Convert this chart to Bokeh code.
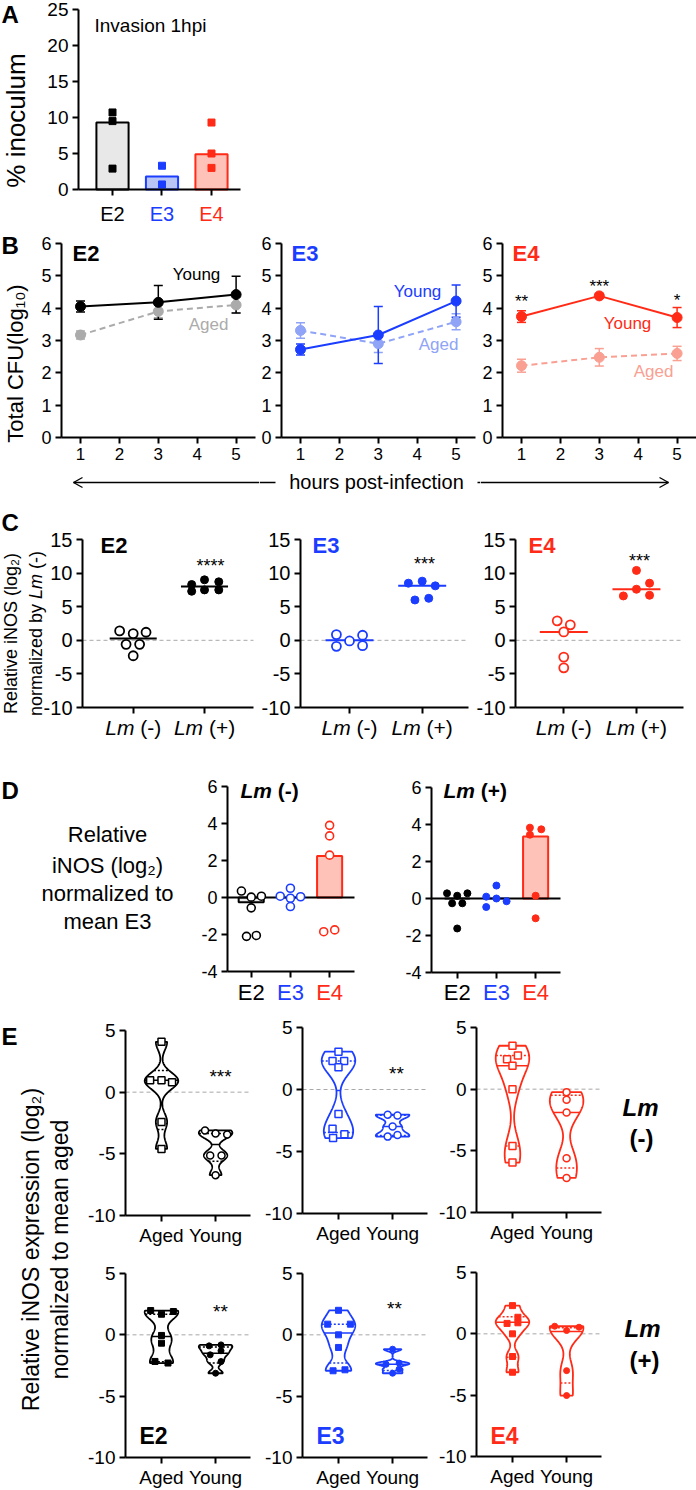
import numpy as np
from bokeh.plotting import figure
from bokeh.models import (Range1d, Label, Whisker, TeeHead, ColumnDataSource, FixedTicker)
from bokeh.layouts import row, column
from bokeh.embed import file_html
from bokeh.resources import INLINE

# ====================== DATA ======================
# Panel A : invasion 1 hpi (% inoculum)
A_groups = ["E2", "E3", "E4"]
A_means = [9.3, 1.8, 4.9]
A_pt_group = [0, 0, 0, 1, 1, 2, 2, 2]
A_pt_value = [10.7, 9.5, 2.9, 3.3, 0.7, 9.3, 5.0, 3.0]
A_yticks = [0, 5, 10, 15, 20, 25]

# Panel B : total CFU (log10) vs hours post-infection
B_hours = [1, 3, 5]
B_E2_young = [4.05, 4.18, 4.42]
B_E2_young_err = [0.17, 0.52, 0.57]
B_E2_aged = [3.17, 3.90, 4.10]
B_E2_aged_err = [0.12, 0.20, 0.25]
B_E3_young = [2.72, 3.17, 4.22]
B_E3_young_err = [0.17, 0.88, 0.50]
B_E3_aged = [3.31, 2.90, 3.58]
B_E3_aged_err = [0.24, 0.27, 0.25]
B_E4_young = [3.74, 4.38, 3.71]
B_E4_young_err = [0.18, 0.05, 0.31]
B_E4_aged = [2.22, 2.48, 2.60]
B_E4_aged_err = [0.20, 0.27, 0.22]
B_E4_stars = ["**", "***", "*"]
B_yticks = [0, 1, 2, 3, 4, 5, 6]

# Panel C : relative iNOS normalized by Lm(-)
C_E2_neg = [1.4, 1.0, 1.2, -0.6, -0.6, -2.3]
C_E2_neg_dx = [-0.19, 0.0, 0.18, -0.10, 0.09, 0.0]
C_E2_pos = [8.3, 9.0, 8.7, 7.3, 7.5, 7.5]
C_E2_pos_dx = [-0.18, 0.0, 0.20, -0.18, 0.0, 0.20]
C_E2_means = [0.25, 8.0]
C_E3_neg = [0.85, -0.9, -0.1, 0.75, -0.8]
C_E3_neg_dx = [-0.18, -0.18, 0.0, 0.18, 0.18]
C_E3_pos = [8.5, 8.8, 8.1, 6.0, 6.25]
C_E3_pos_dx = [-0.19, 0.0, 0.18, -0.10, 0.09]
C_E3_means = [0.0, 8.1]
C_E4_neg = [2.9, 2.3, 1.25, -2.5, -4.1]
C_E4_neg_dx = [-0.09, 0.09, 0.0, 0.0, 0.0]
C_E4_pos = [10.4, 8.5, 7.6, 6.6, 6.7]
C_E4_pos_dx = [0.0, 0.18, 0.0, -0.18, 0.18]
C_E4_means = [1.25, 7.6]
C_stars = ["****", "***", "***"]
C_yticks = [-10, -5, 0, 5, 10, 15]

# Panel D : relative iNOS normalized to mean E3
D_neg_bars = [-0.25, 0.0, 2.25]
D_neg_E2 = [0.35, 0.02, 0.07, -0.56, -2.1, -2.05]
D_neg_E2_dx = [-0.25, 0.0, 0.26, 0.0, -0.12, 0.13]
D_neg_E3 = [0.07, 0.5, 0.04, -0.04, -0.49]
D_neg_E3_dx = [-0.26, 0.0, 0.26, 0.0, 0.0]
D_neg_E4 = [3.9, 3.33, 2.29, -1.85, -1.75]
D_neg_E4_dx = [0.0, 0.0, 0.0, -0.15, 0.13]
D_pos_bars = [0.0, 0.0, 3.35]
D_pos_E2 = [0.28, 0.15, 0.28, -0.26, -0.26, -1.62]
D_pos_E2_dx = [-0.26, 0.0, 0.26, -0.13, 0.13, 0.0]
D_pos_E3 = [0.7, 0.1, 0.0, -0.15, -0.46]
D_pos_E3_dx = [0.0, -0.26, 0.0, 0.26, -0.26]
D_pos_E4 = [3.83, 3.74, 3.45, 0.15, -1.07]
D_pos_E4_dx = [-0.145, 0.145, -0.145, 0.0, 0.0]
D_yticks = [-4, -2, 0, 2, 4, 6]

# Panel E : violins, relative iNOS normalized to mean aged
E_cats = ["Aged", "Young"]
E_yticks = [-10, -5, 0, 5]
# Lm(-)   (lines = aged median, q3, q1, young median, q3, q1)
E_neg_E2_aged = [4.08, 0.97, 0.97, 0.81, -2.41, -4.6]
E_neg_E2_aged_dx = [0.0, -0.21, 0.0, 0.195, 0.0, 0.0]
E_neg_E2_young = [-3.1, -3.35, -3.43, -5.13, -5.13, -6.73]
E_neg_E2_young_dx = [-0.195, 0.0, 0.215, -0.10, 0.11, 0.0]
E_neg_E2_lines = [0.97, 1.76, -3.03, -4.24, -3.35, -5.6]
E_neg_E3_aged = [3.05, 2.3, 2.3, 1.8, -1.98, -3.16, -3.6, -3.92]
E_neg_E3_aged_dx = [0.0, -0.11, 0.105, 0.0, 0.0, -0.11, 0.11, -0.10]
E_neg_E3_young = [-2.03, -2.1, -2.98, -3.8, -3.67]
E_neg_E3_young_dx = [-0.09, 0.09, 0.0, -0.09, 0.09]
E_neg_E3_lines = [-0.08, 2.3, -3.46, -2.98, -2.07, -3.7]
E_neg_E4_aged = [3.52, 2.73, 2.43, 1.9, 0.0, -4.6, -5.95]
E_neg_E4_aged_dx = [0.0, 0.10, -0.10, 0.0, 0.0, 0.0, 0.0]
E_neg_E4_young = [-0.24, -0.86, -1.89, -5.6, -7.2]
E_neg_E4_young_dx = [0.0, 0.0, 0.0, 0.0, 0.0]
E_neg_E4_lines = [1.9, 2.73, -4.6, -1.89, -0.5, -6.4]
# Lm(+)
E_pos_E2_aged = [1.98, 1.9, 1.68, -0.05, -0.68, -2.17, -2.3]
E_pos_E2_aged_dx = [-0.2, 0.22, 0.0, 0.0, 0.0, -0.12, 0.12]
E_pos_E2_young = [-0.9, -0.82, -1.3, -1.63, -2.18, -3.13]
E_pos_E2_young_dx = [-0.12, 0.10, 0.10, -0.10, 0.10, 0.0]
E_pos_E2_lines = [-0.14, 1.68, -2.2, -1.5, -1.0, -2.3]
E_pos_E3_aged = [2.0, 0.87, 0.87, 0.0, -1.03, -2.93, -2.85]
E_pos_E3_aged_dx = [0.0, 0.22, -0.20, 0.0, 0.0, -0.10, 0.12]
E_pos_E3_young = [-1.17, -2.3, -2.4, -2.8, -3.13]
E_pos_E3_young_dx = [0.0, 0.12, -0.12, 0.12, 0.0]
E_pos_E3_lines = [0.14, 0.87, -2.3, -2.4, -1.6, -2.9]
E_pos_E4_aged = [2.3, 1.35, 0.9, 0.85, 0.0, -1.85, -3.13]
E_pos_E4_aged_dx = [0.0, 0.10, 0.10, -0.10, 0.0, 0.0, 0.0]
E_pos_E4_young = [0.62, 0.54, 0.27, -3.0, -5.03]
E_pos_E4_young_dx = [-0.22, 0.23, 0.0, 0.0, 0.0]
E_pos_E4_lines = [0.94, 1.4, -1.9, 0.2, 0.5, -4.0]
E_stars_neg = ["***", "**", ""]
E_stars_pos = ["**", "**", ""]

# ====================== STYLE ======================
FONT = "Liberation Sans"
BLACK = "#000000"
BLUE = "#1b3dff"
RED = "#ff2b17"
GENO_COL = [BLACK, BLUE, RED]
AGED_COL = ["#ababab", "#8fa3f7", "#f9a093"]
BAR_FILL = ["#e8e8e8", "#b9c6f5", "#ffc2b8"]
ZERO_DASH = "#a8a8a8"

W_REG = {'a': .556, 'b': .556, 'c': .5, 'd': .556, 'e': .556, 'f': .278, 'g': .556,
         'h': .556, 'i': .222, 'j': .222, 'k': .5, 'l': .222, 'm': .833, 'n': .556,
         'o': .556, 'p': .556, 'q': .556, 'r': .333, 's': .5, 't': .278, 'u': .556,
         'v': .5, 'w': .722, 'x': .5, 'y': .5, 'z': .5, ' ': .278, '(': .333,
         ')': .333, '-': .333, '+': .584, 'L': .556}
W_BOLD = {'L': .611, 'm': .889, ' ': .278, '(': .333, ')': .333, '-': .333, '+': .584}

GEOM = {}


def mkfig(box, frame=None, xr=(0.0, 1.0), yr=(0.0, 1.0), axes=True):
    """box: figure rectangle in page pixels; frame: where the axes sit (page px);
    xr/yr: data values at the frame edges. The whole box is the drawing area and
    the axes are pinned at the frame edges with fixed_location/bounds."""
    x0, y0, x1, y1 = box
    if frame is None:
        frame = box
    fl, ft, fr, fb = frame
    sx = (xr[1] - xr[0]) / (fr - fl)
    sy = (yr[1] - yr[0]) / (fb - ft)
    xf = (xr[0] + (x0 - fl) * sx, xr[0] + (x1 - fl) * sx)
    yf = (yr[0] + (fb - y1) * sy, yr[0] + (fb - y0) * sy)
    p = figure(width=x1 - x0, height=y1 - y0, min_border=0,
               min_border_left=0, min_border_right=0, min_border_top=0,
               min_border_bottom=0,
               x_range=Range1d(*xf), y_range=Range1d(*yf),
               output_backend="svg", toolbar_location=None, title=None)
    p.outline_line_color = None
    p.background_fill_color = "white"
    p.border_fill_color = "white"
    p.grid.visible = False
    GEOM[p.id] = (x0, y0, x1, y1, xf, yf)
    if axes:
        p.yaxis.fixed_location = xr[0]
        p.yaxis.bounds = (yr[0], yr[1])
        p.xaxis.fixed_location = yr[0]
        p.xaxis.bounds = (xr[0], xr[1])
        for ax in p.axis:
            ax.axis_line_width = 2
            ax.axis_line_color = "black"
            ax.major_tick_line_width = 2
            ax.major_tick_line_color = "black"
            ax.major_tick_out = 6
            ax.major_tick_in = 0
            ax.minor_tick_line_color = None
            ax.major_label_text_font = FONT
            ax.major_label_text_color = "black"
            ax.major_label_standoff = 4
    else:
        p.axis.visible = False
    return p


def dx(p, X):
    x0, y0, x1, y1, xf, yf = GEOM[p.id]
    return xf[0] + (X - x0) / (x1 - x0) * (xf[1] - xf[0])


def dy(p, Y):
    x0, y0, x1, y1, xf, yf = GEOM[p.id]
    return yf[0] + (y1 - Y) / (y1 - y0) * (yf[1] - yf[0])


def px(p, x):
    x0, y0, x1, y1, xf, yf = GEOM[p.id]
    return x0 + (x - xf[0]) / (xf[1] - xf[0]) * (x1 - x0)


def labd(p, x, y, text, size, color=BLACK, style="normal", align="center",
         baseline="middle", angle=0.0):
    p.add_layout(Label(x=x, y=y, text=text, text_font=FONT,
                       text_font_size=f"{size}px", text_color=color,
                       text_font_style=style, text_align=align,
                       text_baseline=baseline, angle=angle))


def lab(p, X, Y, text, size, color=BLACK, style="normal", align="center",
        baseline="middle", angle=0.0):
    labd(p, dx(p, X), dy(p, Y), text, size, color, style, align, baseline, angle)


def seg(p, X0, Y0, X1, Y1, color=BLACK, width=1.3):
    p.segment(x0=[dx(p, X0)], y0=[dy(p, Y0)], x1=[dx(p, X1)], y1=[dy(p, Y1)],
              line_color=color, line_width=width)


def tw(text, bold):
    t = W_BOLD if bold else W_REG
    return sum(t.get(ch, W_REG.get(ch, .556)) for ch in text)


def mixed(p, X, Y, parts, size, color=BLACK, align="center", vertical=False):
    """Several text runs of different styles placed one after another.
    Leading spaces are turned into an offset (SVG collapses them)."""
    widths = [tw(t, "bold" in s) * size for t, s in parts]
    total = sum(widths)
    if not vertical:
        cur = X - total / 2 if align == "center" else X
    else:
        cur = Y + total / 2
    for (t, s), w in zip(parts, widths):
        stripped = t.lstrip(" ")
        lead = tw(t[:len(t) - len(stripped)], "bold" in s) * size
        if not vertical:
            lab(p, cur + lead, Y, stripped, size, color, s, align="left")
            cur += w
        else:
            lab(p, X, cur - lead, stripped, size, color, s, align="left", angle=np.pi / 2)
            cur -= w


def set_ticks(p, xt, yt, ysize, xsize=None, xover=None):
    p.xaxis.ticker = FixedTicker(ticks=xt)
    p.yaxis.ticker = FixedTicker(ticks=yt)
    p.yaxis.major_label_text_font_size = f"{ysize}px"
    p.yaxis.major_label_overrides = {t: (f"-{abs(t)}" if t < 0 else f"{t}") for t in yt}
    if xsize is None:
        p.xaxis.major_label_text_color = None
    else:
        p.xaxis.major_label_text_font_size = f"{xsize}px"
    if xover:
        p.xaxis.major_label_overrides = xover


def zero_line(p, xr, color, dash, width):
    p.segment(x0=[xr[0]], x1=[xr[1]], y0=[0], y1=[0], line_color=color,
              line_dash=dash, line_width=width)


# ====================== PANEL A ======================
A_xr = (-0.687, 2.586)
fA = mkfig((0, 0, 696, 232), (78, 9, 240, 189), A_xr, (0, 25))
set_ticks(fA, [0, 1, 2], A_yticks, 19)
fA.vbar(x=[0, 1, 2], top=A_means, width=0.65, bottom=0,
        fill_color=BAR_FILL, line_color=GENO_COL, line_width=2)
fA.scatter(x=A_pt_group, y=A_pt_value, marker="square", size=7,
           color=[GENO_COL[g] for g in A_pt_group])
for i, g in enumerate(A_groups):
    labd(fA, i, dy(fA, 213), g, 20, GENO_COL[i])
lab(fA, 94, 25, "Invasion 1hpi", 19, align="left")
lab(fA, 1, 14, "A", 24, style="bold", align="left")
lab(fA, 15, 120, "% inoculum", 26, angle=np.pi / 2)

# ====================== PANEL B ======================
B_boxes = [(0, 232, 259, 500), (259, 232, 480, 500), (480, 232, 696, 500)]
B_frames = [(61, 243, 255, 437), (281, 243, 475, 437), (502, 243, 696, 437)]
B_series = [(B_E2_young, B_E2_young_err, B_E2_aged, B_E2_aged_err),
            (B_E3_young, B_E3_young_err, B_E3_aged, B_E3_aged_err),
            (B_E4_young, B_E4_young_err, B_E4_aged, B_E4_aged_err)]
B_title_x = [72, 291, 512]
B_young_lab = [(196, 274), (417, 291), (627, 323)]
B_aged_lab = [(208, 324), (438, 344), (653, 371)]
figsB = []
for k in range(3):
    fl, ft, fr, fb = B_frames[k]
    xs0 = 1 - (19 / 38.9)
    xr = (xs0, xs0 + (fr - fl) / 38.9)
    p = mkfig(B_boxes[k], B_frames[k], xr, (0, 6))
    set_ticks(p, [1, 2, 3, 4, 5], B_yticks, 18, xsize=17)
    young, yerr, aged, aerr = B_series[k]
    col, acol = GENO_COL[k], AGED_COL[k]
    for vals, errs, c, dash in ((aged, aerr, acol, "6 4"), (young, yerr, col, "solid")):
        src = ColumnDataSource(dict(x=B_hours,
                                    lo=[v - e for v, e in zip(vals, errs)],
                                    hi=[v + e for v, e in zip(vals, errs)]))
        p.add_layout(Whisker(source=src, base="x", lower="lo", upper="hi",
                             line_color=c, line_width=1.5,
                             upper_head=TeeHead(size=9, line_color=c, line_width=1.5),
                             lower_head=TeeHead(size=9, line_color=c, line_width=1.5)))
        p.line(B_hours, vals, line_color=c, line_width=2, line_dash=dash)
        p.scatter(B_hours, vals, marker="circle", size=10, color=c)
    lab(p, B_title_x[k], 253, A_groups[k], 22, GENO_COL[k], "bold", align="left")
    lab(p, B_young_lab[k][0], B_young_lab[k][1], "Young", 17, col)
    lab(p, B_aged_lab[k][0], B_aged_lab[k][1], "Aged", 17, acol)
    figsB.append(p)
for h, s, Y in zip(B_hours, B_E4_stars, [297, 282, 296]):
    labd(figsB[2], h, dy(figsB[2], Y + 4), s, 17)
lab(figsB[0], 1, 245, "B", 24, style="bold", align="left")
lab(figsB[0], 15, 363, "Total CFU(log\u2081\u2080)", 22, angle=np.pi / 2)
# double arrow "hours post-infection" (split over the three B figures)
AY = 482
seg(figsB[0], 73, AY, 259, AY)
seg(figsB[0], 73, AY, 82, AY - 5)
seg(figsB[0], 73, AY, 82, AY + 5)
seg(figsB[1], 259, AY, 275, AY)
seg(figsB[1], 477, AY, 480, AY)
seg(figsB[2], 480, AY, 668, AY)
seg(figsB[2], 668, AY, 659, AY - 5)
seg(figsB[2], 668, AY, 659, AY + 5)
lab(figsB[1], 376, 481, "hours post-infection", 20)

# ====================== PANEL C ======================
C_boxes = [(0, 500, 257, 745), (257, 500, 471, 745), (471, 500, 696, 745)]
C_frames = [(82, 539, 253, 707), (300, 539, 468, 707), (515, 539, 683, 707)]
C_xr = [(-0.711, 1.687), (-0.674, 1.637), (-0.664, 1.647)]
C_data = [(C_E2_neg, C_E2_neg_dx, C_E2_pos, C_E2_pos_dx, C_E2_means),
          (C_E3_neg, C_E3_neg_dx, C_E3_pos, C_E3_pos_dx, C_E3_means),
          (C_E4_neg, C_E4_neg_dx, C_E4_pos, C_E4_pos_dx, C_E4_means)]
C_title_x = [100, 312, 528]
C_star_xy = [(210, 561), (424, 559), (639, 556)]
figsC = []
for k in range(3):
    p = mkfig(C_boxes[k], C_frames[k], C_xr[k], (-10, 15))
    set_ticks(p, [0, 1], C_yticks, 20)
    neg, negdx, pos, posdx, means = C_data[k]
    col = GENO_COL[k]
    zero_line(p, C_xr[k], ZERO_DASH, "4 3", 1)
    p.segment(x0=[-0.33, 0.67], x1=[0.33, 1.33], y0=means, y1=means,
              line_color=col, line_width=2)
    p.scatter(x=negdx, y=neg, marker="circle", size=9, line_color=col,
              fill_color="white", line_width=1.8)
    p.scatter(x=[1 + d for d in posdx], y=pos, marker="circle", size=8, color=col)
    lab(p, C_title_x[k], 545, A_groups[k], 22, col, "bold", align="left")
    lab(p, C_star_xy[k][0], C_star_xy[k][1] + 4, C_stars[k], 18)
    for i, sign in enumerate([" (-)", " (+)"]):
        mixed(p, px(p, i), 727, [("Lm", "italic"), (sign, "normal")], 21)
    figsC.append(p)
lab(figsC[0], 1, 522, "C", 24, style="bold", align="left")
lab(figsC[0], 10, 633, "Relative iNOS (log\u2082)", 18, angle=np.pi / 2)
mixed(figsC[0], 35, 633, [("normalized by ", "normal"), ("Lm", "italic"), (" (-)", "normal")],
      18, vertical=True)

# ====================== PANEL D ======================
D_boxes = [(0, 745, 400, 1005), (400, 745, 696, 1005)]
D_frames = [(227, 786, 354, 971), (431, 787, 560, 972)]
D_xr = [(-0.605, 2.635), (-0.656, 2.635)]
D_bars = [D_neg_bars, D_pos_bars]
D_pts = [[(D_neg_E2, D_neg_E2_dx), (D_neg_E3, D_neg_E3_dx), (D_neg_E4, D_neg_E4_dx)],
         [(D_pos_E2, D_pos_E2_dx), (D_pos_E3, D_pos_E3_dx), (D_pos_E4, D_pos_E4_dx)]]
D_title_x = [240, 443]
figsD = []
for k in range(2):
    p = mkfig(D_boxes[k], D_frames[k], D_xr[k], (-4, 6))
    set_ticks(p, [0, 1, 2], D_yticks, 18)
    p.vbar(x=[0, 1, 2], top=D_bars[k], bottom=0, width=0.64,
           fill_color=BAR_FILL, line_color=GENO_COL, line_width=2)
    zero_line(p, D_xr[k], "black", "solid", 2)
    for g in range(3):
        vals, offs = D_pts[k][g]
        xs = [g + o for o in offs]
        if k == 0:
            p.scatter(x=xs, y=vals, marker="circle", size=8, line_color=GENO_COL[g],
                      fill_color="white", line_width=1.6)
        else:
            p.scatter(x=xs, y=vals, marker="circle", size=7, color=GENO_COL[g])
        labd(p, g, dy(p, 992), A_groups[g], 22, GENO_COL[g])
    sign = " (-)" if k == 0 else " (+)"
    mixed(p, D_title_x[k], 790, [("Lm", "bold italic"), (sign, "bold")], 21, align="left")
    figsD.append(p)
lab(figsD[0], 1, 790, "D", 24, style="bold", align="left")
for t, Y in zip(["Relative", "iNOS (log\u2082)", "normalized to", "mean E3"],
                [834, 865, 893, 921]):
    lab(figsD[0], 107, Y, t, 22)

# ====================== PANEL E ======================
fEL = mkfig((0, 1005, 84, 1490), axes=False)
lab(fEL, 1, 1036, "E", 24, style="bold", align="left")
lab(fEL, 30, 1249, "Relative iNOS expression (log\u2082)", 23, angle=np.pi / 2)
lab(fEL, 59, 1249, "normalized to mean aged", 23, angle=np.pi / 2)

E_xbox = [(84, 256), (256, 432), (432, 696)]
E_xframe = [(125, 250), (302, 427), (476, 601)]
E_ybox = [(1005, 1250), (1250, 1490)]
E_yframe = [[(1030, 1215), (1027, 1213), (1027, 1212)],
            [(1273, 1457), (1273, 1457), (1272, 1456)]]
E_xr = (-0.665, 1.645)
E_data = [
    [(E_neg_E2_aged, E_neg_E2_aged_dx, E_neg_E2_young, E_neg_E2_young_dx, E_neg_E2_lines),
     (E_neg_E3_aged, E_neg_E3_aged_dx, E_neg_E3_young, E_neg_E3_young_dx, E_neg_E3_lines),
     (E_neg_E4_aged, E_neg_E4_aged_dx, E_neg_E4_young, E_neg_E4_young_dx, E_neg_E4_lines)],
    [(E_pos_E2_aged, E_pos_E2_aged_dx, E_pos_E2_young, E_pos_E2_young_dx, E_pos_E2_lines),
     (E_pos_E3_aged, E_pos_E3_aged_dx, E_pos_E3_young, E_pos_E3_young_dx, E_pos_E3_lines),
     (E_pos_E4_aged, E_pos_E4_aged_dx, E_pos_E4_young, E_pos_E4_young_dx, E_pos_E4_lines)]]
E_star_xy = [[(220, 1072), (396, 1069)], [(220, 1307), (394, 1304)]]
E_stars = [E_stars_neg, E_stars_pos]


def violin(p, c, vals, color, half=0.31, k=0.55):
    v = np.asarray(vals, float)
    n = len(v)
    sd = v.std(ddof=1)
    q1, q3 = np.percentile(v, [25, 75])
    s = min(sd, (q3 - q1) / 1.34) if q3 > q1 else sd
    h = max(k * 0.9 * s * n ** -0.2, 0.15)
    ys = np.linspace(v.min(), v.max(), 150)
    d = np.exp(-0.5 * ((ys[:, None] - v[None, :]) / h) ** 2).sum(1)
    w = half * d / d.max()
    xs = np.concatenate([c + w, (c - w)[::-1]])
    yy = np.concatenate([ys, ys[::-1]])
    p.patch(xs, yy, fill_color="white", line_color=color, line_width=1.8)
    return ys, w


rows_E = []
for r in range(2):
    by0, by1 = E_ybox[r]
    figs = []
    for g in range(3):
        box = (E_xbox[g][0], by0, E_xbox[g][1], by1)
        fy0, fy1 = E_yframe[r][g]
        frame = (E_xframe[g][0], fy0, E_xframe[g][1], fy1)
        p = mkfig(box, frame, E_xr, (-10, 5))
        set_ticks(p, [0, 1], E_yticks, 19, xsize=19, xover={0: "Aged", 1: "Young"})
        p.xaxis.major_label_standoff = 3
        col = GENO_COL[g]
        zero_line(p, E_xr, ZERO_DASH, "4 3", 1)
        aged, agedx, young, youngdx, lines = E_data[r][g]
        for c, vals, offs, mk, stats in ((0, aged, agedx, "square", lines[0:3]),
                                         (1, young, youngdx, "circle", lines[3:6])):
            ys, w = violin(p, c, vals, col)
            for j, yv in enumerate(stats):
                ww = float(np.interp(yv, ys, w))
                p.segment(x0=[c - ww], x1=[c + ww], y0=[yv], y1=[yv], line_color=col,
                          line_width=1.5, line_dash="solid" if j == 0 else "2 2")
            xs = [c + o for o in offs]
            if r == 0:
                p.scatter(x=xs, y=vals, marker=mk, size=7, line_color=col,
                          fill_color="white", line_width=1.5)
            else:
                p.scatter(x=xs, y=vals, marker=mk, size=6, color=col)
        if E_stars[r][g]:
            lab(p, E_star_xy[r][g][0], E_star_xy[r][g][1] + 4, E_stars[r][g], 19)
        if r == 1:
            lab(p, E_xframe[g][0] + 14, 1435, A_groups[g], 23, col, "bold", align="left")
        figs.append(p)
    rows_E.append(figs)

lab(rows_E[0][2], 640, 1107, "Lm", 24, style="bold italic")
lab(rows_E[0][2], 641, 1138, "(-)", 24, style="bold")
lab(rows_E[1][2], 642, 1328, "Lm", 24, style="bold italic")
lab(rows_E[1][2], 644, 1360, "(+)", 24, style="bold")

# ====================== LAYOUT ======================
layout = column(
    fA,
    row(*figsB, spacing=0),
    row(*figsC, spacing=0),
    row(*figsD, spacing=0),
    row(fEL, column(row(*rows_E[0], spacing=0), row(*rows_E[1], spacing=0), spacing=0),
        spacing=0),
    spacing=0)

open("out.html", "w").write(file_html(layout, INLINE))
